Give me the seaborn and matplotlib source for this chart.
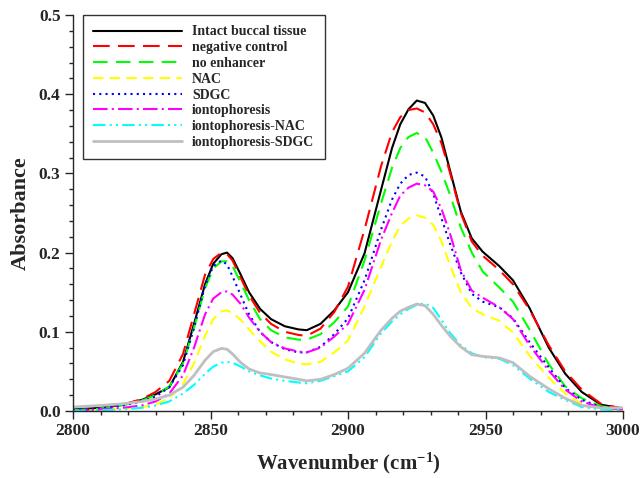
import numpy as np
import pandas as pd
import matplotlib
matplotlib.use("Agg")
import matplotlib.pyplot as plt
import seaborn as sns
from matplotlib.ticker import MultipleLocator, FormatStrFormatter

# wavenumber grid (cm-1)
wavenumber = [2800, 2810, 2818, 2825, 2830, 2835, 2840, 2844, 2848, 2851, 2854, 2856,
              2858, 2861, 2864, 2868, 2872, 2877, 2882, 2885, 2890, 2895, 2900,
              2906, 2912, 2916, 2919, 2922, 2925, 2928, 2931, 2934, 2937, 2941, 2945, 2949,
              2955, 2960, 2966, 2973, 2979, 2985, 2992, 3000]

intact = [0.002, 0.004, 0.008, 0.014, 0.021, 0.030, 0.062, 0.110, 0.160, 0.186, 0.198, 0.200,
          0.193, 0.172, 0.150, 0.129, 0.116, 0.107, 0.103, 0.102, 0.110, 0.127, 0.150,
          0.199, 0.279, 0.332, 0.362, 0.381, 0.392, 0.389, 0.373, 0.345, 0.305, 0.252, 0.218, 0.201,
          0.183, 0.165, 0.130, 0.080, 0.047, 0.024, 0.008, 0.003]
neg_control = [0.000, 0.003, 0.008, 0.015, 0.024, 0.038, 0.072, 0.122, 0.172, 0.192, 0.200, 0.198,
               0.190, 0.168, 0.146, 0.124, 0.110, 0.100, 0.096, 0.095, 0.104, 0.125, 0.157,
               0.229, 0.309, 0.352, 0.371, 0.380, 0.382, 0.377, 0.362, 0.338, 0.302, 0.250, 0.214, 0.196,
               0.178, 0.160, 0.128, 0.083, 0.050, 0.027, 0.009, 0.003]
no_enhancer = [0.001, 0.003, 0.007, 0.013, 0.020, 0.031, 0.060, 0.105, 0.155, 0.180, 0.189, 0.189,
               0.183, 0.162, 0.140, 0.116, 0.102, 0.093, 0.090, 0.090, 0.097, 0.112, 0.132,
               0.190, 0.262, 0.307, 0.332, 0.346, 0.351, 0.346, 0.326, 0.302, 0.274, 0.232, 0.200, 0.176,
               0.156, 0.138, 0.103, 0.059, 0.031, 0.016, 0.006, 0.002]
nac = [0.000, 0.001, 0.003, 0.005, 0.008, 0.016, 0.034, 0.060, 0.095, 0.116, 0.126, 0.127,
       0.124, 0.115, 0.103, 0.088, 0.075, 0.065, 0.060, 0.059, 0.062, 0.074, 0.089,
       0.132, 0.182, 0.214, 0.234, 0.243, 0.247, 0.244, 0.235, 0.214, 0.185, 0.150, 0.130, 0.122,
       0.114, 0.099, 0.070, 0.042, 0.022, 0.009, 0.003, 0.001]
sdgc = [0.001, 0.003, 0.007, 0.012, 0.018, 0.030, 0.058, 0.105, 0.158, 0.183, 0.190, 0.185,
        0.170, 0.146, 0.122, 0.100, 0.087, 0.078, 0.074, 0.074, 0.081, 0.097, 0.117,
        0.165, 0.229, 0.267, 0.287, 0.298, 0.301, 0.296, 0.274, 0.243, 0.212, 0.175, 0.148, 0.138,
        0.131, 0.117, 0.087, 0.055, 0.029, 0.014, 0.005, 0.002]
ionto = [0.000, 0.002, 0.004, 0.007, 0.012, 0.022, 0.045, 0.080, 0.122, 0.142, 0.150, 0.151,
         0.147, 0.135, 0.118, 0.100, 0.087, 0.079, 0.075, 0.074, 0.080, 0.094, 0.110,
         0.153, 0.216, 0.250, 0.272, 0.282, 0.287, 0.285, 0.277, 0.255, 0.225, 0.178, 0.152, 0.143,
         0.131, 0.116, 0.083, 0.051, 0.027, 0.012, 0.004, 0.002]
ionto_nac = [0.000, 0.001, 0.002, 0.004, 0.007, 0.012, 0.022, 0.033, 0.047, 0.056, 0.061, 0.062,
             0.061, 0.056, 0.050, 0.045, 0.041, 0.038, 0.036, 0.035, 0.038, 0.044, 0.050,
             0.068, 0.098, 0.113, 0.122, 0.129, 0.134, 0.136, 0.130, 0.115, 0.099, 0.083, 0.073, 0.068,
             0.066, 0.058, 0.041, 0.024, 0.014, 0.005, 0.002, 0.001]
ionto_sdgc = [0.005, 0.007, 0.009, 0.012, 0.015, 0.020, 0.030, 0.045, 0.064, 0.075, 0.079, 0.078,
              0.072, 0.061, 0.053, 0.048, 0.046, 0.043, 0.040, 0.038, 0.040, 0.046, 0.054,
              0.073, 0.102, 0.117, 0.126, 0.131, 0.135, 0.133, 0.122, 0.108, 0.095, 0.081, 0.071, 0.069,
              0.067, 0.061, 0.044, 0.028, 0.016, 0.007, 0.004, 0.004]

labels = ["Intact buccal tissue", "negative control", "no enhancer", "NAC", "SDGC",
          "iontophoresis", "iontophoresis-NAC", "iontophoresis-SDGC"]
series = [intact, neg_control, no_enhancer, nac, sdgc, ionto, ionto_nac, ionto_sdgc]
colors = ["black", "#ff0000", "#00ff00", "#ffff00", "#0000ff", "#ff00ff", "#00ffff", "#bfbfbf"]
styles = ["-", (0, (8, 4)), (0, (7, 4)), (0, (5, 3)), (0, (1, 2)),
          (0, (7, 2, 1, 2)), (0, (6, 2, 1, 2, 1, 2)), "-"]
widths = [1.5, 1.5, 1.5, 1.5, 1.5, 1.5, 1.5, 2.0]

sns.set_style("ticks")
plt.rcParams["font.family"] = ["Liberation Serif", "DejaVu Serif"]
plt.rcParams["font.weight"] = "bold"
plt.rcParams["mathtext.fontset"] = "custom"
plt.rcParams["mathtext.rm"] = "Liberation Serif:bold"
plt.rcParams["mathtext.bf"] = "Liberation Serif:bold"
plt.rcParams["mathtext.default"] = "bf"

fig = plt.figure(figsize=(6.44, 4.78), dpi=100)
ax = fig.add_axes([0.1134, 0.1402, 0.854, 0.8284])

for lab, vals, c, ls, lw in zip(labels, series, colors, styles, widths):
    df = pd.DataFrame({"x": wavenumber, "y": vals})
    sns.lineplot(data=df, x="x", y="y", ax=ax, color=c, linestyle=ls, linewidth=lw, label=lab)

ax.set_xlim(2800, 3000)
ax.set_ylim(0, 0.5)
ax.xaxis.set_major_locator(MultipleLocator(50))
ax.xaxis.set_minor_locator(MultipleLocator(10))
ax.yaxis.set_major_locator(MultipleLocator(0.1))
ax.yaxis.set_minor_locator(MultipleLocator(0.02))
ax.yaxis.set_major_formatter(FormatStrFormatter("%.1f"))
ax.tick_params(which="major", direction="out", length=6, width=1, labelsize=12.5, pad=3)
ax.tick_params(which="minor", direction="out", length=3, width=1)
for lab in ax.get_xticklabels() + ax.get_yticklabels():
    lab.set_fontweight("bold")
sns.despine(ax=ax)
ax.spines["left"].set_linewidth(1)
ax.spines["bottom"].set_linewidth(1)

ax.set_xlabel("Wavenumber (cm$^{-1}$)", fontsize=15, fontweight="bold")
ax.set_ylabel("Absorbance", fontsize=16, fontweight="bold")
ax.xaxis.set_label_coords(0.5, -0.1)
ax.yaxis.set_label_coords(-0.077, 0.5)

leg = ax.legend(loc="upper left", bbox_to_anchor=(0.018, 1.0), borderaxespad=0,
                fontsize=10, handlelength=6.4, handletextpad=0.7, labelspacing=0.2,
                fancybox=False, frameon=True, edgecolor="black", borderpad=0.75)
leg.get_frame().set_linewidth(1)
for t in leg.get_texts():
    t.set_fontweight("bold")

fig.savefig("out.png", dpi=100)
